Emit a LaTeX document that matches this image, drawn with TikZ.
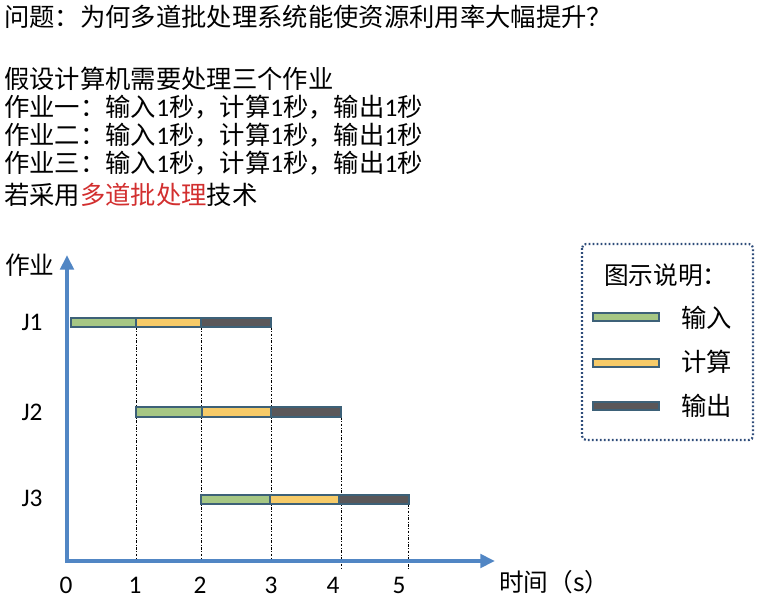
\documentclass[tikz,border=0pt]{standalone}
\usepackage{fontspec}
\setmainfont{Carlito}
\newfontfamily\cjk{Noto Sans CJK SC}
\newfontfamily\carl{Carlito}
\usetikzlibrary{arrows.meta}
\definecolor{axisblue}{HTML}{5186C4}
\definecolor{ingreen}{HTML}{A6C784}
\definecolor{calcyellow}{HTML}{F6CB69}
\definecolor{outgray}{HTML}{5A5759}
\definecolor{barline}{HTML}{3D6178}
\definecolor{legendline}{HTML}{2E4C7A}
\definecolor{hired}{HTML}{D22F2F}
\begin{document}
\begin{tikzpicture}[x=0.75pt,y=-0.75pt,
  txt/.style={anchor=west,inner sep=0pt,font=\cjk\fontsize{19}{22}\selectfont},
  axislbl/.style={inner sep=0pt,font=\carl\fontsize{19}{22}\selectfont},
  cjklbl/.style={inner sep=0pt,font=\cjk\fontsize{18.5}{21}\selectfont},
  leglbl/.style={anchor=west,inner sep=0pt,font=\cjk\fontsize{19}{22}\selectfont},
  axis/.style={draw=axisblue,line width=3.6pt,line join=miter,
    {Triangle[width=10pt,length=11pt]}-{Triangle[width=10pt,length=11pt]}},
  bar/.style={draw=barline,line width=0.8pt},
  guide/.style={draw=black,line width=0.5pt,dash pattern=on 2pt off 1.2pt on 0.6pt off 1.2pt},
  legendbox/.style={draw=legendline,line width=1.6pt,dash pattern=on 1.4pt off 1.6pt,rounded corners=3pt}
]
\useasboundingbox (0,0) rectangle (783,610);

% header text
\node[txt] (q)  at (4,17)  {问题：为何多道批处理系统能使资源利用率大幅提升？};
\node[txt] (l1) at (4,79)  {假设计算机需要处理三个作业};
\node[txt] (l2) at (4,107) {作业一：输入{\carl 1}秒，计算{\carl 1}秒，输出{\carl 1}秒};
\node[txt] (l3) at (4,135) {作业二：输入{\carl 1}秒，计算{\carl 1}秒，输出{\carl 1}秒};
\node[txt] (l4) at (4,163) {作业三：输入{\carl 1}秒，计算{\carl 1}秒，输出{\carl 1}秒};
\node[txt] (l5) at (4,195) {若采用{\color{hired}多道批处理}技术};

% guides
\draw[guide] (136,327) -- (136,561);
\draw[guide] (201,327) -- (201,561);
\draw[guide] (271,327) -- (271,561);
\draw[guide] (341,417) -- (341,569);
\draw[guide] (408,504) -- (408,569);

% axes
\draw[axis] (67,255) -- (67,561) -- (495,561);

% bars J1
\path[bar,fill=ingreen]    (71,318) rectangle (136,327);
\path[bar,fill=calcyellow] (136,318) rectangle (201,327);
\path[bar,fill=outgray]    (201,318) rectangle (271,327);
% bars J2
\path[bar,fill=ingreen]    (136,407) rectangle (202,417);
\path[bar,fill=calcyellow] (202,407) rectangle (271,417);
\path[bar,fill=outgray]    (271,407) rectangle (341,417);
% bars J3
\path[bar,fill=ingreen]    (201,495) rectangle (270,504);
\path[bar,fill=calcyellow] (270,495) rectangle (339,504);
\path[bar,fill=outgray]    (339,495) rectangle (409,504);

% axis labels
\node[cjklbl] (ylab) at (30,265) {作业};
\node[axislbl] (j1) at (32,322) {J1};
\node[axislbl] (j2) at (32,412) {J2};
\node[axislbl] (j3) at (32,498) {J3};
\node[axislbl] (t0) at (66,585) {0};
\node[axislbl] (t1) at (135,585) {1};
\node[axislbl] (t2) at (200,585) {2};
\node[axislbl] (t3) at (271,585) {3};
\node[axislbl] (t4) at (333,585) {4};
\node[axislbl] (t5) at (399,585) {5};
\node[cjklbl,anchor=west] (xlab) at (499,582) {时间（s）};

% legend
\draw[legendbox] (582,244) rectangle (753,440);
\node[cjklbl,anchor=west] (legtitle) at (604,275) {图示说明：};
\path[bar,fill=ingreen]    (593,313) rectangle (659,321);
\path[bar,fill=calcyellow] (593,359) rectangle (659,367);
\path[bar,fill=outgray]    (593,402) rectangle (659,410);
\node[leglbl] (lin)  at (681,318) {输入};
\node[leglbl] (lcal) at (681,362) {计算};
\node[leglbl] (lout) at (681,406) {输出};
\end{tikzpicture}
\end{document}
